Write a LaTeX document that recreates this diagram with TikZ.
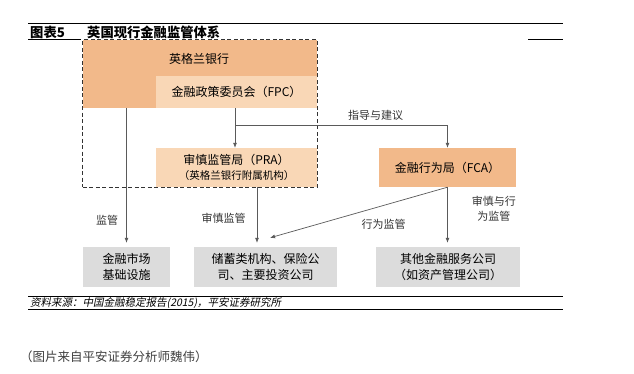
\documentclass[tikz,border=0pt]{standalone}
\usepackage{fontspec}
\setmainfont{Noto Sans CJK SC}
\newfontfamily\slantcjk{Noto Sans CJK SC}[FakeSlant=0.2]
\usetikzlibrary{positioning, arrows.meta, fit}
\definecolor{boeorange}{HTML}{F2B98A}
\definecolor{fpcpeach}{HTML}{F9D7B6}
\definecolor{firmgray}{HTML}{DCDCDC}
\definecolor{linegray}{HTML}{5A5A5A}
\tikzset{
	orangebox/.style={rectangle, fill=boeorange, inner sep=2pt, align=center},
	peachbox/.style={rectangle, fill=fpcpeach, inner sep=2pt, align=center},
	firmbox/.style={rectangle, fill=firmgray, inner sep=2pt, align=center, minimum height=40pt},
	arrow/.style={-{Latex[length=5pt,width=4pt]}, linegray, line width=0.7pt}
}

\begin{document}
\begin{tikzpicture}[
		x=1pt, y=-1pt,
		boxfont/.style={font=\fontsize{12}{16}\selectfont},
		tag/.style={font=\fontsize{11}{15}\selectfont, text=black!80, inner sep=1pt, align=center},
		rule/.style={line width=0.9pt, black},
		dashedbox/.style={draw=black!80, dash pattern=on 4pt off 2.5pt, line width=1pt, inner sep=0pt}
		]
		
		\useasboundingbox[fill=white] (0,0) rectangle (634,374);
		
		\draw[rule] (28,23) -- (563,23);
		\node[anchor=west, inner sep=0pt, font=\fontsize{13.3}{15}\selectfont\bfseries] (fignum) at (30,32) {图表5};
		\node[anchor=west, inner sep=0pt, font=\fontsize{13.3}{15}\selectfont\bfseries] (figtitle) at (87,32) {英国现行金融监管体系};
		\draw[rule] (28,39) -- (81,39);
		\draw[rule] (528,39) -- (563,39);
		
		\node[orangebox, minimum width=234pt, minimum height=68pt] (boe) at (200,74) {};
		\node[anchor=west, inner sep=0pt, boxfont] (boename) at (169,59) {英格兰银行};
		\node[peachbox, boxfont, minimum width=161pt, minimum height=32pt] (fpc) at (236.5,92) {金融政策委员会（FPC）};
		\node[peachbox, minimum width=161pt, minimum height=39pt, font=\fontsize{12}{15}\selectfont] (pra) at (236.5,167.5) {审慎监管局（PRA）\\{\fontsize{10.5}{15}\selectfont （英格兰银行附属机构）}};
		\node[orangebox, boxfont, minimum width=137pt, minimum height=39pt] (fca) at (447.5,167.5) {金融行为局（FCA）};
		
		\node[firmbox, boxfont, minimum width=87pt] (fmi) at (126.5,267) {金融市场\\基础设施};
		\node[firmbox, boxfont, minimum width=143pt] (savers) at (265.5,267) {储蓄类机构、保险公\\司、主要投资公司};
		\node[firmbox, boxfont, minimum width=144pt] (others) at (448,267) {其他金融服务公司\\（如资产管理公司）};
		
		\node[dashedbox, fit=(boe)(pra)] (bankgroup) {};
		
		\coordinate (split) at (235,125);
		\coordinate (prafoot) at ([xshift=20.5pt]pra.south);
		
		\draw[arrow, shorten >=4pt] (fmi |- boe.south) -- (fmi.north)
		node[pos=0.81, left=7pt, tag] {监管};
		\draw[linegray, line width=0.7pt] (split |- fpc.south) -- (split);
		\draw[arrow] (split) -| (fca.north)
		node[pos=0.331, above=3.5pt, tag] {指导与建议};
		\draw[arrow] (split) -- (split |- pra.north);
		\draw[arrow, shorten >=4pt] (prafoot) -- (prafoot |- savers.north)
		node[pos=0.52, left=10pt, tag] {审慎监管};
		\draw[arrow, shorten >=4pt] (fca.south) -- (fca.south |- others.north)
		node[pos=0.37, right=23pt, tag] {审慎与行\\为监管};
		\draw[arrow] (fca.south) -- ([xshift=4.5pt, yshift=9pt]savers.north)
		node[pos=0.36, below=12pt, tag] {行为监管};
		
		\draw[rule] (28,296) -- (563,296);
		\node[anchor=west, inner sep=0pt, font=\slantcjk\fontsize{10.5}{12}\selectfont] (source) at (30,303) {资料来源：中国金融稳定报告(2015)，平安证券研究所};
		\draw[rule] (28,309) -- (563,309);
		
		\node[anchor=west, inner sep=0pt, text=black!75, font=\fontsize{12.5}{14}\selectfont] (credit) at (20,357) {（图片来自平安证券分析师魏伟）};
		
	\end{tikzpicture}
\end{document}
